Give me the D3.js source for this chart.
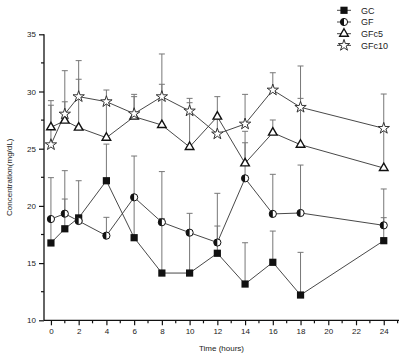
<!DOCTYPE html>
<html>
<head>
<meta charset="utf-8">
<script src="https://cdn.jsdelivr.net/npm/d3@7"></script>
<style>
  body { margin: 0; background: #fff; }
  text { font-family: "Liberation Sans", Arial, sans-serif; fill: #222; }
</style>
</head>
<body>
<div id="chart"></div>
<script>
// Data
var hours = [0, 1, 2, 4, 6, 8, 10, 12, 14, 16, 18, 24];
var seriesNames = ["GC", "GF", "GFc5", "GFc10"];

var gcMean = [16.76, 18.0, 18.95, 22.2, 17.22, 14.13, 14.13, 15.86, 13.17, 15.07, 12.21, 16.96];
var gcTop  = [18.9, 20.6, 22.2, 25.4, 20.7, 23.0, 17.7, 18.24, 16.78, 17.8, 15.94, 18.97];

var gfMean = [18.85, 19.32, 18.68, 17.4, 20.75, 18.57, 17.66, 16.8, 22.41, 19.3, 19.38, 18.3];
var gfTop  = [22.47, 23.08, 19.0, 19.0, 24.36, 18.9, 19.35, 21.1, 25.52, 22.76, 23.57, 21.48];

var c5Mean = [26.87, 27.45, 26.84, 25.96, 27.8, 27.07, 25.15, 27.8, 23.72, 26.4, 25.35, 23.31];
var c5Top  = [28.8, 29.1, 31.07, 29.3, 29.55, 30.63, 29.4, 29.55, 26.52, 27.51, 29.4, 26.9];

var c10Mean = [25.35, 28.03, 29.55, 29.11, 28.06, 29.55, 28.3, 26.29, 27.16, 30.13, 28.62, 26.78];
var c10Top  = [29.2, 31.82, 32.7, 30.13, 29.75, 33.28, 29.02, 27.6, 29.75, 31.64, 32.23, 29.78];

var yTicks = [10, 15, 20, 25, 30, 35];
var xTicks = [0, 2, 4, 6, 8, 10, 12, 14, 16, 18, 20, 22, 24];

var svgWidth = 404;
var svgHeight = 359;

var svg = d3.select("#chart")
  .append("svg")
  .attr("width", svgWidth)
  .attr("height", svgHeight);

// scales (plot area 44..399 x 34..320)
var x = d3.scaleLinear().domain([-0.5, 25.1]).range([44, 399]);
var y = d3.scaleLinear().domain([10, 35]).range([320.3, 34.3]);

var series = [
  { name: "GC", mean: gcMean, top: gcTop, kind: "square" },
  { name: "GF", mean: gfMean, top: gfTop, kind: "half" },
  { name: "GFc5", mean: c5Mean, top: c5Top, kind: "triangle" },
  { name: "GFc10", mean: c10Mean, top: c10Top, kind: "star" }
];

// axes
var bottomAxis = d3.axisBottom(x).tickValues(xTicks).tickSize(5).tickPadding(3);
var leftAxis = d3.axisLeft(y).tickValues(yTicks).tickSize(5).tickPadding(3);

var xg = svg.append("g")
  .attr("transform", `translate(0, ${y(10)})`)
  .call(bottomAxis);
var yg = svg.append("g")
  .attr("transform", `translate(${x(-0.5)}, 0)`)
  .call(leftAxis);

[xg, yg].forEach(function(g) {
  g.select(".domain").attr("stroke", "#111").attr("stroke-width", 1.3);
  g.selectAll(".tick line").attr("stroke", "#111").attr("stroke-width", 1.2);
  g.selectAll(".tick text").attr("font-size", 8).attr("fill", "#222");
});
xg.select(".domain").attr("d", `M${x(-0.5)},0H${x(25.1)}`);
yg.select(".domain").attr("d", `M0,${y(10)}V${y(35)}`);

// minor ticks
var xMinor = d3.range(1, 26, 2);
svg.append("g").selectAll("line")
  .data(xMinor)
  .enter().append("line")
  .attr("x1", d => x(d)).attr("x2", d => x(d))
  .attr("y1", y(10)).attr("y2", y(10) + 3)
  .attr("stroke", "#111").attr("stroke-width", 1.2);

var yMinor = [12.5, 17.5, 22.5, 27.5, 32.5];
svg.append("g").selectAll("line")
  .data(yMinor)
  .enter().append("line")
  .attr("x1", x(-0.5)).attr("x2", x(-0.5) - 3)
  .attr("y1", d => y(d)).attr("y2", d => y(d))
  .attr("stroke", "#111").attr("stroke-width", 1.2);

// axis titles
svg.append("text")
  .attr("x", (x(-0.5) + x(25.1)) / 2)
  .attr("y", 351)
  .attr("text-anchor", "middle")
  .attr("font-size", 8)
  .text("Time (hours)");

svg.append("text")
  .attr("transform", `translate(12, ${(y(10) + y(35)) / 2}) rotate(-90)`)
  .attr("text-anchor", "middle")
  .attr("font-size", 8)
  .text("Concentration(mg/dL)");

// error bars (upward only)
var errG = svg.append("g");
series.forEach(function(s) {
  hours.forEach(function(h, i) {
    errG.append("line")
      .attr("x1", x(h)).attr("x2", x(h))
      .attr("y1", y(s.mean[i])).attr("y2", y(s.top[i]))
      .attr("stroke", "#777").attr("stroke-width", 1);
    errG.append("line")
      .attr("x1", x(h) - 3).attr("x2", x(h) + 3)
      .attr("y1", y(s.top[i])).attr("y2", y(s.top[i]))
      .attr("stroke", "#777").attr("stroke-width", 1);
  });
});

// lines
var line = d3.line()
  .x((d, i) => x(hours[i]))
  .y(d => y(d));

series.forEach(function(s) {
  svg.append("path")
    .attr("d", line(s.mean))
    .attr("fill", "none")
    .attr("stroke", "#333")
    .attr("stroke-width", 0.9);
});

// markers
function drawMarker(g, kind, cx, cy) {
  if (kind === "square") {
    g.append("rect")
      .attr("x", cx - 3.6).attr("y", cy - 3.6)
      .attr("width", 7.2).attr("height", 7.2)
      .attr("fill", "#111");
  } else if (kind === "half") {
    g.append("circle")
      .attr("cx", cx).attr("cy", cy).attr("r", 3.6)
      .attr("fill", "#fff").attr("stroke", "#111").attr("stroke-width", 1);
    g.append("path")
      .attr("d", `M${cx},${cy - 3.6}A3.6,3.6 0 0 0 ${cx},${cy + 3.6}Z`)
      .attr("fill", "#111");
  } else if (kind === "triangle") {
    g.append("path")
      .attr("transform", `translate(${cx},${cy})`)
      .attr("d", d3.symbol().type(d3.symbolTriangle).size(32)())
      .attr("fill", "#fff").attr("stroke", "#111").attr("stroke-width", 1.4);
  } else {
    g.append("path")
      .attr("transform", `translate(${cx},${cy})`)
      .attr("d", d3.symbol().type(d3.symbolStar).size(40)())
      .attr("fill", "#fff").attr("stroke", "#333").attr("stroke-width", 1);
  }
}

var markG = svg.append("g");
series.forEach(function(s) {
  s.mean.forEach(function(v, i) {
    drawMarker(markG, s.kind, x(hours[i]), y(v));
  });
});

// legend
var legend = svg.append("g");
seriesNames.forEach(function(name, i) {
  var ly = 10.3 + i * 11.7;
  var s = series[i];
  legend.append("line")
    .attr("x1", 337).attr("x2", 351)
    .attr("y1", ly).attr("y2", ly)
    .attr("stroke", "#333").attr("stroke-width", 0.9);
  drawMarker(legend, s.kind, 344, ly);
  legend.append("text")
    .attr("x", 361).attr("y", ly + 3.3)
    .attr("font-size", 9)
    .text(name);
});
</script>
</body>
</html>
